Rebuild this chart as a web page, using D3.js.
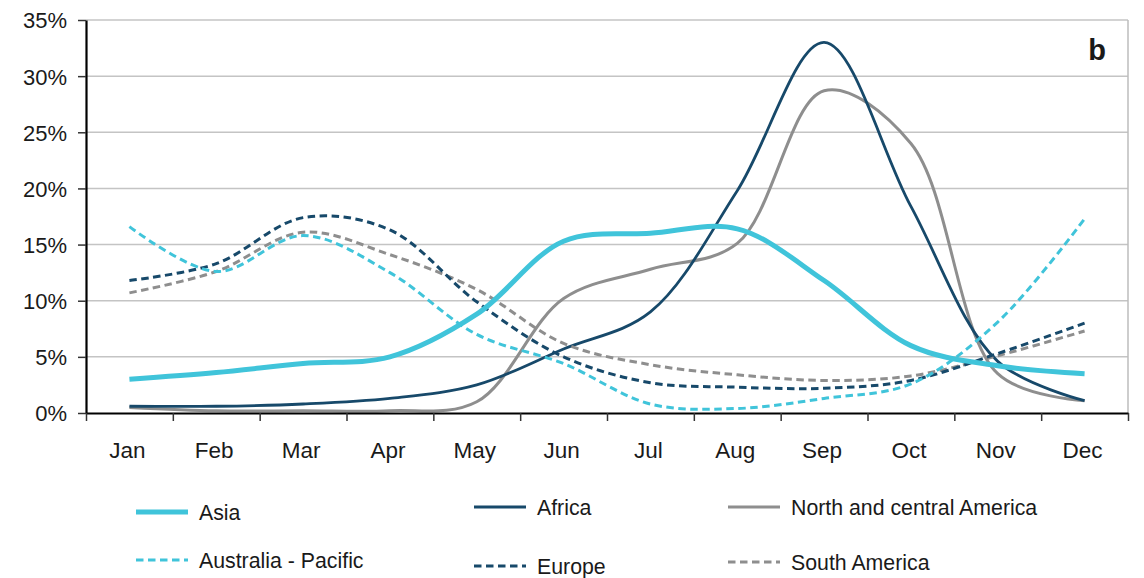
<!DOCTYPE html>
<html>
<head>
<meta charset="utf-8">
<script src="https://cdn.jsdelivr.net/npm/d3@7"></script>
<style>
  html, body { margin: 0; padding: 0; background: #fff; }
  svg text { font-family: "Liberation Sans", Arial, sans-serif; fill: #1a1a1a; }
</style>
</head>
<body>
<svg id="chart" width="1144" height="578"></svg>
<script>
const months = ["Jan","Feb","Mar","Apr","May","Jun","Jul","Aug","Sep","Oct","Nov","Dec"];
const yTicks = [0, 5, 10, 15, 20, 25, 30, 35];

const asia      = [3.0, 3.6, 4.4, 5.0, 8.8, 15.3, 16.0, 16.4, 11.8, 6.0, 4.2, 3.5];
const africa    = [0.6, 0.6, 0.8, 1.3, 2.5, 5.7, 9.0, 19.8, 33.0, 18.4, 4.6, 1.1];
const ncAmerica = [0.5, 0.2, 0.2, 0.2, 1.0, 10.2, 12.8, 15.1, 28.7, 24.0, 3.5, 1.1];
const australia = [16.6, 12.6, 15.8, 12.5, 7.0, 4.4, 0.8, 0.4, 1.3, 2.6, 8.1, 17.3];
const europe    = [11.8, 13.3, 17.4, 16.3, 9.9, 5.0, 2.7, 2.3, 2.2, 2.9, 5.3, 8.0];
const sAmerica  = [10.7, 12.6, 16.1, 14.1, 11.0, 6.2, 4.3, 3.4, 2.9, 3.3, 5.1, 7.3];

const seriesNames = ["Asia", "Australia - Pacific", "Africa", "Europe", "North and central America", "South America"];

const CYAN = "#40C4DA", NAVY = "#17496A", GREY = "#8E8E8E";
const series = [
  { name: seriesNames[0], values: asia,      color: CYAN, width: 5,   dash: null },
  { name: seriesNames[1], values: australia, color: CYAN, width: 3,   dash: "7.5,4.5" },
  { name: seriesNames[2], values: africa,    color: NAVY, width: 2.8, dash: null },
  { name: seriesNames[3], values: europe,    color: NAVY, width: 3,   dash: "7.5,4.5" },
  { name: seriesNames[4], values: ncAmerica, color: GREY, width: 3,   dash: null },
  { name: seriesNames[5], values: sAmerica,  color: GREY, width: 3,   dash: "7.5,4.5" }
];

const svg = d3.select("#chart");
const L = 86, R = 1128, T = 20, B = 413;

const x = d3.scaleBand().domain(months).range([L, R]).paddingInner(0).paddingOuter(0);
const xEdge = d3.scaleLinear().domain([0, 12]).range([L, R]);
const y = d3.scaleLinear().domain([0, 35]).range([B, T]);
const cx = m => x(m) + x.bandwidth() / 2;

// gridlines
svg.append("g").selectAll("line").data(yTicks.filter(t => t > 0)).join("line")
  .attr("x1", L).attr("x2", R)
  .attr("y1", d => y(d)).attr("y2", d => y(d))
  .attr("stroke", "#c4c4c4").attr("stroke-width", 1.5);
// right border
svg.append("line").attr("x1", R).attr("x2", R).attr("y1", T).attr("y2", B)
  .attr("stroke", "#bdbdbd").attr("stroke-width", 1.5);

// Y axis
const yAxis = svg.append("g").attr("transform", `translate(${L},0)`)
  .call(d3.axisLeft(y).tickValues(yTicks).tickSize(8).tickSizeOuter(0).tickFormat(d => d + "%"));
yAxis.select(".domain").attr("stroke", "#000").attr("stroke-width", 2.2);
yAxis.selectAll(".tick line").attr("stroke", "#333").attr("stroke-width", 1.5);
yAxis.selectAll(".tick text").attr("x", -19).attr("dy", "0.36em")
  .style("font-size", "22px").style("font-family", "Liberation Sans, Arial, sans-serif").attr("fill", "#1a1a1a");

// lines
const line = d3.line()
  .x((d, i) => cx(months[i]))
  .y(d => y(d))
  .curve(d3.curveCatmullRom.alpha(0.5));

const order = [4, 2, 5, 3, 1, 0];
svg.append("g").selectAll("path").data(order.map(i => series[i])).join("path")
  .attr("d", d => line(d.values))
  .attr("fill", "none")
  .attr("stroke", d => d.color)
  .attr("stroke-width", d => d.width)
  .attr("stroke-dasharray", d => d.dash)
  .attr("stroke-linejoin", "round");

// X axis
const xAxis = svg.append("g").attr("transform", `translate(0,${B})`)
  .call(d3.axisBottom(xEdge).tickValues(d3.range(13)).tickSize(8).tickSizeOuter(0).tickFormat(""));
xAxis.select(".domain").attr("stroke", "#000").attr("stroke-width", 2.2);
xAxis.selectAll(".tick line").attr("stroke", "#333").attr("stroke-width", 1.5);

svg.append("g").selectAll("text").data(months).join("text")
  .attr("x", d => cx(d) - 2).attr("y", 458)
  .attr("text-anchor", "middle")
  .style("font-size", "22.5px")
  .text(d => d);

// panel label
svg.append("text").attr("x", 1097).attr("y", 60).attr("text-anchor", "middle")
  .style("font-size", "29px").style("font-weight", "bold").text("b");

// legend
const legendPos = [
  { x: 136, y: 512 }, { x: 136, y: 560 },
  { x: 474, y: 507 }, { x: 474, y: 566 },
  { x: 728, y: 507 }, { x: 728, y: 562 }
];
const lg = svg.append("g").selectAll("g").data(series).join("g")
  .attr("transform", (d, i) => `translate(${legendPos[i].x},${legendPos[i].y})`);
lg.append("line").attr("x1", 0).attr("x2", 52).attr("y1", 0).attr("y2", 0)
  .attr("stroke", d => d.color)
  .attr("stroke-width", d => d.width === 5 ? 5 : 3)
  .attr("stroke-dasharray", d => d.dash);
lg.append("text").attr("x", 63).attr("y", 0).attr("dy", "0.36em")
  .style("font-size", "21.3px").text(d => d.name);
</script>
</body>
</html>
